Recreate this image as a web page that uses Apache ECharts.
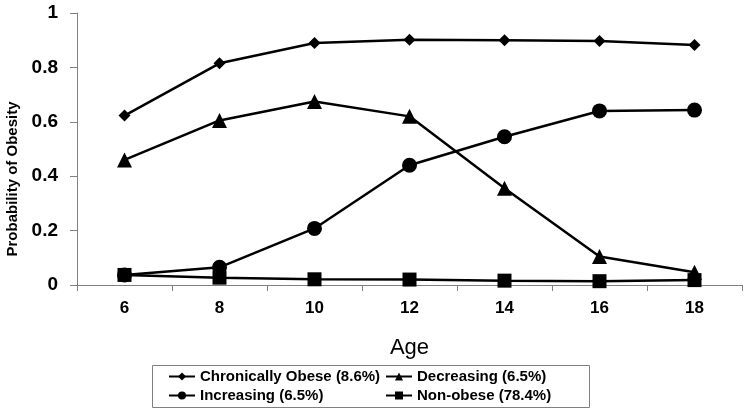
<!DOCTYPE html>
<html><head><meta charset="utf-8">
<script src="https://cdn.jsdelivr.net/npm/echarts@6/dist/echarts.min.js"></script>
<style>html,body{margin:0;padding:0;background:#fff}#c{width:750px;height:411px}</style>
</head><body><div id="c"></div>
<script>
const ages = ['6','8','10','12','14','16','18'];
const chronic = [0.623, 0.815, 0.89, 0.902, 0.9, 0.897, 0.882];
const decreasing = [0.46, 0.605, 0.675, 0.62, 0.356, 0.105, 0.047];
const increasing = [0.037, 0.065, 0.208, 0.44, 0.545, 0.64, 0.643];
const nonobese = [0.037, 0.027, 0.021, 0.02, 0.016, 0.014, 0.018];
const yTicks = [0, 0.2, 0.4, 0.6, 0.8, 1];
const names = ['Chronically Obese (8.6%)','Decreasing (6.5%)','Increasing (6.5%)','Non-obese (78.4%)'];

const chart = echarts.init(document.getElementById('c'));
const mk = (name, data, symbol, size) => ({
  name, type:'line', data, symbol, symbolSize:size, showAllSymbol:true,
  lineStyle:{color:'#000', width:2.5}, itemStyle:{color:'#000'}, emphasis:{disabled:true}
});
const legendText = {fontFamily:'Liberation Sans', fontWeight:'bold', fontSize:15, color:'#000'};
chart.setOption({
  animation:false,
  grid:{left:77, right:8, top:13, bottom:126, containLabel:false, outerBoundsMode:'none'},
  xAxis:{type:'category', data:ages, boundaryGap:true,
    name:'Age', nameLocation:'middle', nameGap:52,
    nameTextStyle:{fontFamily:'Liberation Sans', fontSize:22, color:'#000'},
    axisLine:{lineStyle:{color:'#808080', width:1}},
    axisTick:{show:true, alignWithLabel:false, length:6, lineStyle:{color:'#808080'}},
    axisLabel:{fontFamily:'Liberation Sans', fontWeight:'bold', fontSize:17, color:'#000', margin:15}},
  yAxis:{type:'value', min:0, max:1, interval:0.2,
    name:'Probability of Obesity', nameLocation:'middle', nameGap:56,
    nameTextStyle:{fontFamily:'Liberation Sans', fontWeight:'bold', fontSize:15, color:'#000', padding:[0,60,0,0]},
    axisLine:{show:true, lineStyle:{color:'#808080', width:1}},
    axisTick:{show:true, length:7, lineStyle:{color:'#808080'}},
    splitLine:{show:false},
    axisLabel:{fontFamily:'Liberation Sans', fontWeight:'bold', fontSize:19, color:'#000', margin:19,
      formatter:v=>yTicks.includes(+v.toFixed(1))?String(+v.toFixed(1)):''}},
  legend:[
    {data:[names[0],names[2]], orient:'vertical', left:168, top:369, itemGap:4, itemWidth:26, itemHeight:10, textStyle:legendText, padding:0},
    {data:[names[1],names[3]], orient:'vertical', left:385, top:369, itemGap:4, itemWidth:26, itemHeight:10, textStyle:legendText, padding:0}
  ],
  graphic:[{type:'rect', shape:{x:152.5, y:365.5, width:437, height:42}, style:{fill:'none', stroke:'#808080', lineWidth:1}}],
  series:[
    mk(names[0], chronic, 'diamond', 12),
    mk(names[1], decreasing, 'triangle', 15),
    mk(names[2], increasing, 'circle', 15),
    mk(names[3], nonobese, 'rect', 14)
  ]
});
</script></body></html>
